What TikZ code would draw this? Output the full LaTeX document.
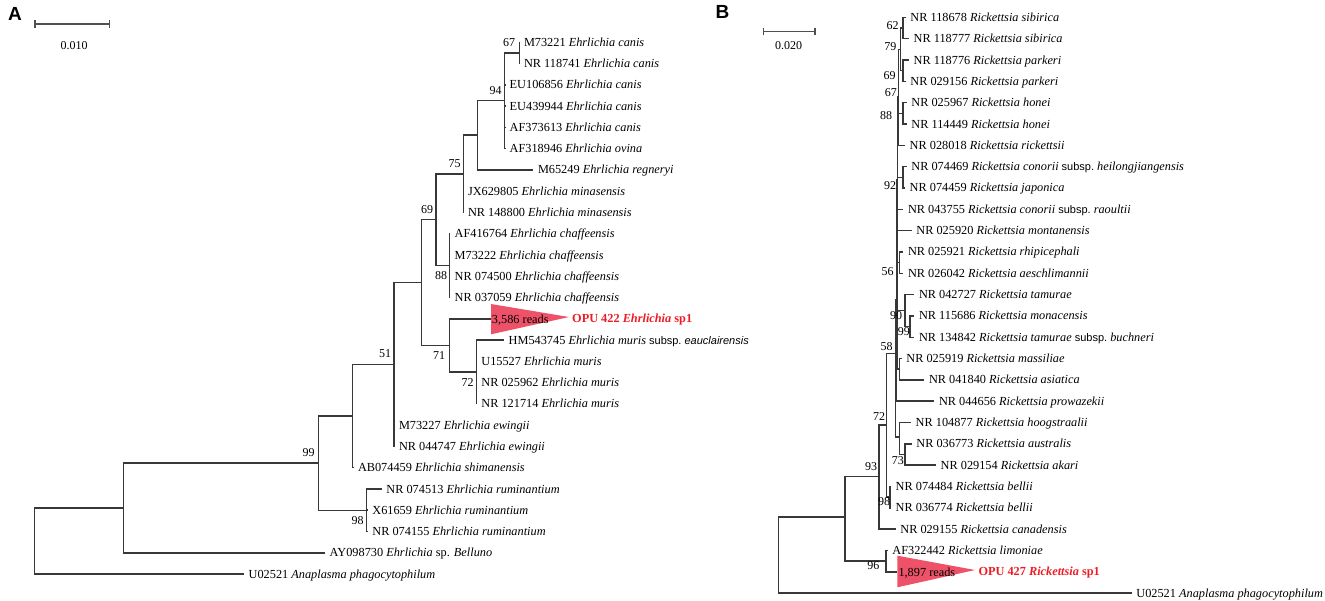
\documentclass[tikz,border=0pt]{standalone}
\usepackage{fontspec}
\setmainfont{Liberation Serif}
\newfontfamily\sansf{Liberation Sans}
\newcommand\leaffont{\fontsize{12.3pt}{14pt}\selectfont}
\newcommand\bsfont{\fontsize{12pt}{14pt}\selectfont}
\newcommand\ssp{{\sansf\fontsize{11pt}{13pt}\selectfont subsp.}}
\definecolor{tri}{RGB}{238,82,104}
\definecolor{opu}{RGB}{237,28,36}
\definecolor{sbar}{RGB}{80,80,80}
\begin{document}
\begin{tikzpicture}[x=1pt,y=-1pt,
  br/.style={line width=1.5pt,draw=black!78},
  sb/.style={line width=1.5pt,draw=sbar},
  leaf/.style={anchor=west,inner xsep=4.5pt,inner ysep=0pt,text height=8pt,text depth=0pt,font=\leaffont},
  plain/.style={anchor=west,inner sep=0pt,text height=8pt,text depth=0pt,font=\leaffont},
  bsv/.style={inner sep=0pt,text height=8pt,text depth=0pt,font=\bsfont},
  panel/.style={inner sep=0pt,text height=13.6pt,text depth=0pt,font=\sansf\bfseries\fontsize{19pt}{20pt}\selectfont}]
\useasboundingbox (0,0) rectangle (1325,600);
% ---------------- Panel A ----------------
\node[panel] (pA) at (15,14) {A};
\coordinate (sA1) at (35,24); \coordinate (sA2) at (109.3,24);
\draw[sb] (sA1) -- (sA2);
\draw[sb] ([yshift=-3.7pt]sA1) -- ([yshift=3.7pt]sA1);
\draw[sb] ([yshift=-3.7pt]sA2) -- ([yshift=3.7pt]sA2);
\node[bsv] (sAl) at (74,45) {0.010};
% leaves
\node[leaf] (lA0) at (519.3,42.3) {M73221 \textit{Ehrlichia canis}};
\node[leaf] (lA1) at (519.3,63.6) {NR 118741 \textit{Ehrlichia canis}};
\node[leaf] (lA2) at (505,84.8) {EU106856 \textit{Ehrlichia canis}};
\node[leaf] (lA3) at (505,106.1) {EU439944 \textit{Ehrlichia canis}};
\node[leaf] (lA4) at (505,127.4) {AF373613 \textit{Ehrlichia canis}};
\node[leaf] (lA5) at (505,148.7) {AF318946 \textit{Ehrlichia ovina}};
\node[leaf] (lA6) at (533.3,169.9) {M65249 \textit{Ehrlichia regneryi}};
\node[leaf] (lA7) at (463.3,191.2) {JX629805 \textit{Ehrlichia minasensis}};
\node[leaf] (lA8) at (463.3,212.5) {NR 148800 \textit{Ehrlichia minasensis}};
\node[leaf] (lA9) at (450,233.7) {AF416764 \textit{Ehrlichia chaffeensis}};
\node[leaf] (lA10) at (450,255) {M73222 \textit{Ehrlichia chaffeensis}};
\node[leaf] (lA11) at (450,276.3) {NR 074500 \textit{Ehrlichia chaffeensis}};
\node[leaf] (lA12) at (450,297.5) {NR 037059 \textit{Ehrlichia chaffeensis}};
\node[leaf] (lA14) at (504,340.1) {HM543745 \textit{Ehrlichia muris} \ssp\ {\sansf\itshape\fontsize{11pt}{13pt}\selectfont eauclairensis}};
\node[leaf] (lA15) at (476.7,361.4) {U15527 \textit{Ehrlichia muris}};
\node[leaf] (lA16) at (476.7,382.6) {NR 025962 \textit{Ehrlichia muris}};
\node[leaf] (lA17) at (476.7,403.9) {NR 121714 \textit{Ehrlichia muris}};
\node[leaf] (lA18) at (394.3,425.2) {M73227 \textit{Ehrlichia ewingii}};
\node[leaf] (lA19) at (394.3,446.4) {NR 044747 \textit{Ehrlichia ewingii}};
\node[leaf] (lA20) at (353.3,467.7) {AB074459 \textit{Ehrlichia shimanensis}};
\node[leaf] (lA21) at (381.7,489) {NR 074513 \textit{Ehrlichia ruminantium}};
\node[leaf] (lA22) at (367.7,510.2) {X61659 \textit{Ehrlichia ruminantium}};
\node[leaf] (lA23) at (367.7,531.5) {NR 074155 \textit{Ehrlichia ruminantium}};
\node[leaf] (lA24) at (325,552.8) {AY098730 \textit{Ehrlichia} sp. \textit{Belluno}};
\node[leaf] (lA25) at (244,574) {U02521 \textit{Anaplasma phagocytophilum}};
% collapsed OPU 422
\coordinate (tA1) at (491,304); \coordinate (tA2) at (491,334.3); \coordinate (tA3) at (569,317);
\coordinate (tA) at (491,318.8);
\fill[tri] (tA1) -- (tA2) -- (tA3) -- cycle;
\node[plain] (rA) at (491.7,319.5) {3,586 reads};
\node[plain,text=opu] (oA) at (572,318.8) {\textbf{OPU 422 \textit{Ehrlichia} sp1}};
% internal nodes
\coordinate (a67) at (519.3,52.9);
\coordinate (a94) at (504.7,100.4);
\coordinate (a477) at (477.7,135);
\coordinate (a75) at (463.3,173.8);
\coordinate (a88) at (449.3,265.6);
\coordinate (a69) at (436,219.7);
\coordinate (a72) at (476.7,372);
\coordinate (a71) at (449.3,345.4);
\coordinate (a421) at (421.7,282.5);
\coordinate (a51) at (394,364.5);
\coordinate (a352) at (352.7,416);
\coordinate (a98) at (366.7,510.3);
\coordinate (a99) at (318.3,463.2);
\coordinate (a123) at (123.3,508);
\coordinate (a34) at (34.7,541);
% branches
\draw[br] (a34) |- (a123); \draw[br] (a34) |- (lA25);
\draw[br] (a123) |- (a99); \draw[br] (a123) |- (lA24);
\draw[br] (a99) |- (a352); \draw[br] (a99) |- (a98);
\draw[br] (a98) |- (lA21); \draw[br] (a98) |- (lA22); \draw[br] (a98) |- (lA23);
\draw[br] (a352) |- (a51); \draw[br] (a352) |- (lA20);
\draw[br] (a51) |- (a421); \draw[br] (a51) |- (lA18); \draw[br] (a51) |- (lA19);
\draw[br] (a421) |- (a69); \draw[br] (a421) |- (a71);
\draw[br] (a71) |- (tA); \draw[br] (a71) |- (a72);
\draw[br] (a72) |- (lA14); \draw[br] (a72) |- (lA15); \draw[br] (a72) |- (lA16); \draw[br] (a72) |- (lA17);
\draw[br] (a69) |- (a75); \draw[br] (a69) |- (a88);
\draw[br] (a88) |- (lA9); \draw[br] (a88) |- (lA10); \draw[br] (a88) |- (lA11); \draw[br] (a88) |- (lA12);
\draw[br] (a75) |- (a477); \draw[br] (a75) |- (lA7); \draw[br] (a75) |- (lA8);
\draw[br] (a477) |- (a94); \draw[br] (a477) |- (lA6);
\draw[br] (a94) |- (a67); \draw[br] (a94) |- (lA2); \draw[br] (a94) |- (lA3); \draw[br] (a94) |- (lA4); \draw[br] (a94) |- (lA5);
\draw[br] (a67) |- (lA0); \draw[br] (a67) |- (lA1);
% bootstrap values
\node[bsv] (bA67) at (509,42.3) {67};
\node[bsv] (bA94) at (495.5,90) {94};
\node[bsv] (bA75) at (454.5,163.3) {75};
\node[bsv] (bA69) at (427,209) {69};
\node[bsv] (bA88) at (441,275) {88};
\node[bsv] (bA71) at (439,355.7) {71};
\node[bsv] (bA72) at (467.5,382.7) {72};
\node[bsv] (bA51) at (385,353.3) {51};
\node[bsv] (bA98) at (357.5,520.7) {98};
\node[bsv] (bA99) at (308.7,452.3) {99};
% ---------------- Panel B ----------------
\node[panel] (pB) at (722.5,12) {B};
\coordinate (sB1) at (763.3,31.7); \coordinate (sB2) at (815,31.7);
\draw[sb] (sB1) -- (sB2);
\draw[sb] ([yshift=-3.4pt]sB1) -- ([yshift=3.4pt]sB1);
\draw[sb] ([yshift=-3.4pt]sB2) -- ([yshift=3.4pt]sB2);
\node[bsv] (sBl) at (788.5,45) {0.020};
% leaves
\node[leaf] (lB0) at (905.7,17.3) {NR 118678 \textit{Rickettsia sibirica}};
\node[leaf] (lB1) at (909,38.6) {NR 118777 \textit{Rickettsia sibirica}};
\node[leaf] (lB2) at (909,60) {NR 118776 \textit{Rickettsia parkeri}};
\node[leaf] (lB3) at (905.7,81.3) {NR 029156 \textit{Rickettsia parkeri}};
\node[leaf] (lB4) at (906.7,102.6) {NR 025967 \textit{Rickettsia honei}};
\node[leaf] (lB5) at (906.7,124) {NR 114449 \textit{Rickettsia honei}};
\node[leaf] (lB6) at (905,145.3) {NR 028018 \textit{Rickettsia rickettsii}};
\node[leaf] (lB7) at (906.7,166.6) {NR 074469 \textit{Rickettsia conorii} \ssp\ \textit{heilongjiangensis}};
\node[leaf] (lB8) at (905,187.9) {NR 074459 \textit{Rickettsia japonica}};
\node[leaf] (lB9) at (903.3,209.3) {NR 043755 \textit{Rickettsia conorii} \ssp\ \textit{raoultii}};
\node[leaf] (lB10) at (911.7,230.6) {NR 025920 \textit{Rickettsia montanensis}};
\node[leaf] (lB11) at (903.3,251.9) {NR 025921 \textit{Rickettsia rhipicephali}};
\node[leaf] (lB12) at (903.3,273.3) {NR 026042 \textit{Rickettsia aeschlimannii}};
\node[leaf] (lB13) at (914.3,294.6) {NR 042727 \textit{Rickettsia tamurae}};
\node[leaf] (lB14) at (914.3,315.9) {NR 115686 \textit{Rickettsia monacensis}};
\node[leaf] (lB15) at (914.3,337.3) {NR 134842 \textit{Rickettsia tamurae} \ssp\ \textit{buchneri}};
\node[leaf] (lB16) at (901.7,358.6) {NR 025919 \textit{Rickettsia massiliae}};
\node[leaf] (lB17) at (924.3,379.9) {NR 041840 \textit{Rickettsia asiatica}};
\node[leaf] (lB18) at (934.3,401.2) {NR 044656 \textit{Rickettsia prowazekii}};
\node[leaf] (lB19) at (911,422.6) {NR 104877 \textit{Rickettsia hoogstraalii}};
\node[leaf] (lB20) at (911.7,443.9) {NR 036773 \textit{Rickettsia australis}};
\node[leaf] (lB21) at (936,465.2) {NR 029154 \textit{Rickettsia akari}};
\node[leaf] (lB22) at (891,486.6) {NR 074484 \textit{Rickettsia bellii}};
\node[leaf] (lB23) at (891,507.9) {NR 036774 \textit{Rickettsia bellii}};
\node[leaf] (lB24) at (895.7,529.2) {NR 029155 \textit{Rickettsia canadensis}};
\node[leaf] (lB25) at (887.7,550.5) {AF322442 \textit{Rickettsia limoniae}};
\node[leaf] (lB27) at (1131.7,593.2) {U02521 \textit{Anaplasma phagocytophilum}};
% collapsed OPU 427
\coordinate (tB1) at (897.3,555.7); \coordinate (tB2) at (897.3,587.3); \coordinate (tB3) at (975,570);
\coordinate (tB) at (897.3,571.9);
\fill[tri] (tB1) -- (tB2) -- (tB3) -- cycle;
\node[plain] (rB) at (898.3,572.4) {1,897 reads};
\node[plain,text=opu] (oB) at (978.3,571.9) {\textbf{OPU 427 \textit{Rickettsia} sp1}};
% internal nodes
\coordinate (b62) at (903,28);
\coordinate (b69) at (903,70.6);
\coordinate (b79) at (900.5,49.3);
\coordinate (b88) at (903,113.3);
\coordinate (b67) at (898.5,97);
\coordinate (b92) at (903,177.3);
\coordinate (b56) at (899.5,262.6);
\coordinate (bSa) at (897.5,180);
\coordinate (b99) at (910,326.6);
\coordinate (b90) at (905,310.6);
\coordinate (bW) at (899.5,369.2);
\coordinate (bX) at (897,280);
\coordinate (bY) at (896.3,300);
\coordinate (b73) at (905,454.5);
\coordinate (bZ) at (899.5,437);
\coordinate (b58) at (895.5,353.3);
\coordinate (b98) at (890,497.2);
\coordinate (b72) at (886.7,425);
\coordinate (b93) at (879,476.7);
\coordinate (b96) at (886,561);
\coordinate (bN) at (845,517);
\coordinate (bR) at (778.3,555);
% branches
\draw[br] (bR) |- (bN); \draw[br] (bR) |- (lB27);
\draw[br] (bN) |- (b93); \draw[br] (bN) |- (b96);
\draw[br] (b96) |- (lB25); \draw[br] (b96) |- (tB);
\draw[br] (b93) |- (b72); \draw[br] (b93) |- (lB24);
\draw[br] (b72) |- (b58); \draw[br] (b72) |- (b98);
\draw[br] (b98) |- (lB22); \draw[br] (b98) |- (lB23);
\draw[br] (b58) |- (bY); \draw[br] (b58) |- (bZ);
\draw[br] (bZ) |- (lB19); \draw[br] (bZ) |- (b73);
\draw[br] (b73) |- (lB20); \draw[br] (b73) |- (lB21);
\draw[br] (bY) |- (bX); \draw[br] (bY) |- (lB18);
\draw[br] (bX) |- (bSa); \draw[br] (bX) |- (b90); \draw[br] (bX) |- (bW);
\draw[br] (bW) |- (lB16); \draw[br] (bW) |- (lB17);
\draw[br] (b90) |- (lB13); \draw[br] (b90) |- (b99);
\draw[br] (b99) |- (lB14); \draw[br] (b99) |- (lB15);
\draw[br] (bSa) |- (b67); \draw[br] (bSa) |- (b92); \draw[br] (bSa) |- (lB9); \draw[br] (bSa) |- (lB10); \draw[br] (bSa) |- (b56);
\draw[br] (b56) |- (lB11); \draw[br] (b56) |- (lB12);
\draw[br] (b92) |- (lB7); \draw[br] (b92) |- (lB8);
\draw[br] (b67) |- (b79); \draw[br] (b67) |- (b88); \draw[br] (b67) |- (lB6);
\draw[br] (b88) |- (lB4); \draw[br] (b88) |- (lB5);
\draw[br] (b79) |- (b62); \draw[br] (b79) |- (b69);
\draw[br] (b62) |- (lB0); \draw[br] (b62) |- (lB1);
\draw[br] (b69) |- (lB2); \draw[br] (b69) |- (lB3);
% bootstrap values
\node[bsv] (bB62) at (892.5,25) {62};
\node[bsv] (bB79) at (890.3,46.7) {79};
\node[bsv] (bB69) at (889.7,75) {69};
\node[bsv] (bB67) at (890.8,92.5) {67};
\node[bsv] (bB88) at (886,115) {88};
\node[bsv] (bB92) at (890,185) {92};
\node[bsv] (bB56) at (887.5,271.7) {56};
\node[bsv] (bB90) at (896,315) {90};
\node[bsv] (bB99) at (903.8,331.7) {99};
\node[bsv] (bB58) at (886.5,346.7) {58};
\node[bsv] (bB72) at (879.2,416.7) {72};
\node[bsv] (bB73) at (897.8,460) {73};
\node[bsv] (bB93) at (871.2,466.7) {93};
\node[bsv] (bB98) at (884.2,501.7) {98};
\node[bsv] (bB96) at (873.3,565.7) {96};
\end{tikzpicture}
\end{document}
